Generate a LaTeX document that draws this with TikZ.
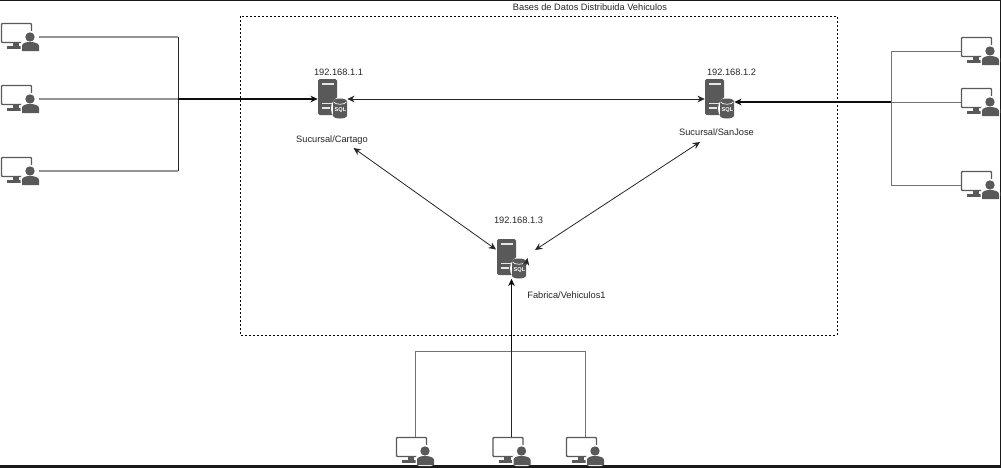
\documentclass[tikz,border=0pt]{standalone}
\usepackage{fontspec}
\setmainfont{Liberation Sans}
\usetikzlibrary{arrows.meta}
\definecolor{icon}{HTML}{595959}
\tikzset{
  x=0.75pt,y=-0.75pt,
  lab/.style={inner sep=0pt,font=\fontsize{6.95pt}{8pt}\selectfont,text=black!85},
  box/.style={inner sep=0pt,minimum width=21.75pt,minimum height=29.25pt},
  userbox/.style={inner sep=0pt,minimum width=28.5pt,minimum height=21pt},
  tip/.style={{Stealth[length=5.5pt,width=5pt]}-{Stealth[length=5.5pt,width=5pt]}},
  onetip/.style={-{Stealth[length=5.5pt,width=5pt]}},
  grayline/.style={draw=black!42,line width=1.05pt},
  midline/.style={draw=black!55,line width=0.75pt},
  darkline/.style={draw=black!85,line width=0.75pt},
  heavy/.style={draw=black!95,line width=1.3pt},
  userpc/.pic={
    \draw[icon,line width=1.05pt,rounded corners=0.6pt] (-18.5,-13.5) rectangle (11.5,5.5);
    \fill[icon] (-7.5,6) rectangle (-1,9.5);
    \fill[icon] (-13,9) rectangle (2,11.5);
    \fill[white] (10,0) circle (6.2);
    \fill[white,rounded corners=3pt] (0.5,3.5) rectangle (20,15);
    \fill[icon] (10,0) circle (4.7);
    \fill[icon] (2,14) -- (2,9) .. controls (2,6.5) and (5,5) .. (10,5) .. controls (15,5) and (19,6.5) .. (19,9) -- (19,14) -- cycle;
  },
  dbserver/.pic={
    \fill[icon,rounded corners=1.2pt] (-14.5,-20) rectangle (4.5,16);
    \fill[white!85!icon] (-11,-16.5) rectangle (1,-14.5);
    \fill[white!85!icon] (-11,3.5) rectangle (1,5);
    \fill[white!85!icon] (-11,8) rectangle (-3,9.5);
    \fill[white] (7.5,9.5) ellipse [x radius=9,y radius=11.5];
    \fill[icon] (0.5,2.5) -- (0.5,16.5) .. controls (0.5,20.5) and (14.5,20.5) .. (14.5,16.5) -- (14.5,2.5) .. controls (14.5,-1.5) and (0.5,-1.5) .. (0.5,2.5) -- cycle;
    \draw[white,line width=0.5pt] (1,3) .. controls (3,6) and (12,6) .. (14,3);
  }
}
\begin{document}
\begin{tikzpicture}
\useasboundingbox (0,0) rectangle (1001,468);
\fill[white] (0,0) rectangle (1001,468);
\fill[black!90] (0,0) rectangle (1001,1);
\fill[black!90] (0,464.5) rectangle (1001,468);
\fill[black!90] (999.5,0) rectangle (1001,468);

\draw[black,line width=0.5pt,dash pattern=on 1.5pt off 1.5pt] (240,16) rectangle (837,335);

% named nodes
\node[box] (s1) at (332.5,99) {};
\node[box] (s2) at (719.5,99) {};
\node[box] (s3) at (511.5,259) {};
\node[userbox] (u1) at (20,37) {};
\node[userbox] (u2) at (20,99) {};
\node[userbox] (u3) at (20,171) {};
\node[userbox] (u4) at (980,51) {};
\node[userbox] (u5) at (980,102) {};
\node[userbox] (u6) at (980,185) {};
\node[userbox] (u7) at (415,451) {};
\node[userbox] (u8) at (511.5,451) {};
\node[userbox] (u9) at (585,451) {};

\coordinate (jl) at (178,99);
\coordinate (jr) at (891,102);
\coordinate (jb) at (511.5,351);
\coordinate (a1) at (353.5,148);
\coordinate (a2) at (496,249.5);
\coordinate (b1) at (700,142);
\coordinate (b2) at (535,250);
\coordinate (c1) at (526,265);
\coordinate (c2) at (527.5,258);

% left group
\draw[grayline] (u1.east) -- (178,37);
\draw[grayline] (u2.east) -- (jl);
\draw[grayline] (u3.east) -- (178,171);
\draw[darkline] (178,37) -- (178,171);
\draw[heavy,onetip] (jl) -- (s1.west);
% right group
\draw[midline] (u4.west) -- (891,51) -- (891,185) -- (u6.west);
\draw[midline] (u5.west) -- (jr);
\draw[heavy,onetip] (jr) -- (s2.east |- jr);
% bottom group
\draw[midline] (u7.north) -- (415,351) -- (585,351) -- (u9.north);
\draw[darkline] (u8.north) -- (jb);
\draw[heavy] (jb) -- (511.5,290);
% server links
\draw[darkline,tip,line width=0.6pt] (s1.east) -- (s2.west);
\draw[darkline,tip,line width=0.6pt] (a1) -- (a2);
\draw[darkline,tip,line width=0.6pt] (b1) -- (b2);

% icons
\pic at (s1) {dbserver};
\pic at (s2) {dbserver};
\pic at (s3) {dbserver};
\foreach \u in {u1,u2,u3,u4,u5,u6,u7,u8,u9} {\pic at (\u) {userpc};}
\draw[heavy,onetip] (511.5,292) -- (s3.south);
\draw[darkline,onetip,line width=0.6pt] (c1) -- (c2);

\foreach \s in {s1,s2,s3} {
  \node[inner sep=0pt,text=white,font=\fontsize{4.2pt}{5pt}\selectfont\bfseries] (sql\s) at ([shift={(8,11.5)}]\s) {SQL};
}

% labels
\node[lab] (title) at (590,7.5) {Bases de Datos Distribuida Vehiculos};
\node[lab] (l1) at (338.5,72) {192.168.1.1};
\node[lab] (l2) at (731.5,72) {192.168.1.2};
\node[lab] (l3) at (518.5,220) {192.168.1.3};
\node[lab] (n1) at (332,140) {Sucursal/Cartago};
\node[lab] (n2) at (716.5,132) {Sucursal/SanJose};
\node[lab] (n3) at (566.5,295) {Fabrica/Vehiculos1};
\end{tikzpicture}
\end{document}
